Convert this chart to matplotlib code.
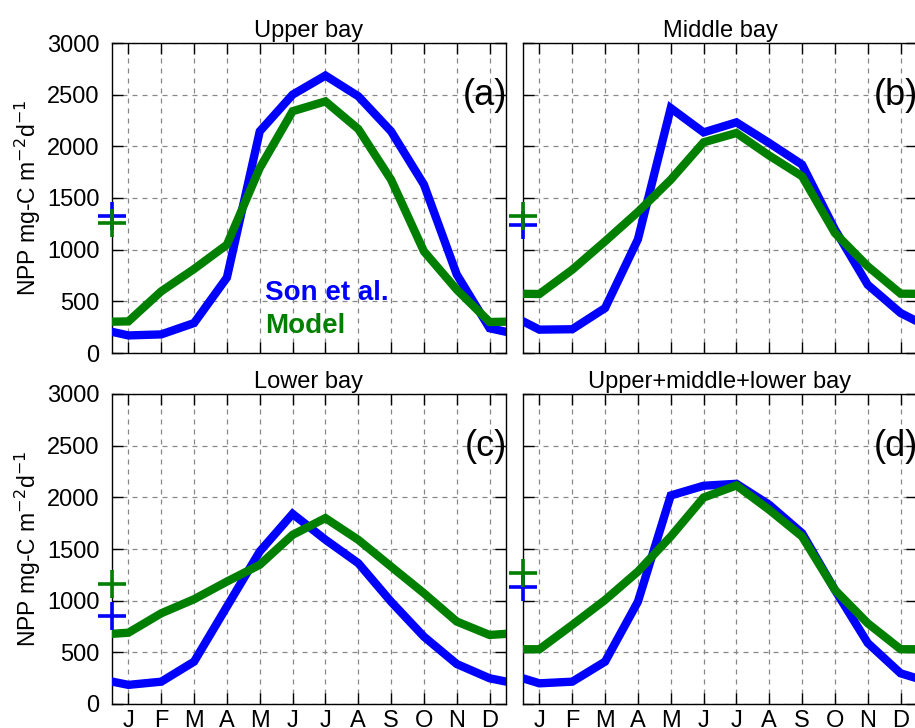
import matplotlib.pyplot as plt
import numpy as np

plt.rcParams['font.family'] = ['Liberation Sans', 'DejaVu Sans']

months = ['J', 'F', 'M', 'A', 'M', 'J', 'J', 'A', 'S', 'O', 'N', 'D']
titles = ['Upper bay', 'Middle bay', 'Lower bay', 'Upper+middle+lower bay']
tags = ['(a)', '(b)', '(c)', '(d)']

# Son et al. (satellite) monthly NPP
son_upper = [170, 180, 290, 730, 2145, 2500, 2685, 2485, 2145, 1630, 760, 240]
son_middle = [226, 230, 435, 1100, 2370, 2135, 2232, 2032, 1823, 1195, 660, 387]
son_lower = [185, 216, 410, 943, 1476, 1840, 1590, 1363, 990, 652, 387, 249]
son_total = [200, 216, 410, 990, 2018, 2112, 2131, 1928, 1653, 1104, 590, 297]

# Model monthly NPP
model_upper = [306, 597, 813, 1048, 1790, 2340, 2435, 2168, 1677, 984, 613, 300]
model_middle = [571, 806, 1081, 1365, 1677, 2039, 2129, 1910, 1710, 1161, 839, 574]
model_lower = [690, 878, 1014, 1185, 1347, 1637, 1799, 1589, 1330, 1072, 798, 668]
model_total = [530, 765, 1007, 1282, 1621, 1998, 2115, 1879, 1621, 1104, 781, 530]

# annual means shown as crosses on the left axis
son_mean = [1330, 1240, 850, 1130]
model_mean = [1260, 1330, 1160, 1270]

son_all = [son_upper, son_middle, son_lower, son_total]
model_all = [model_upper, model_middle, model_lower, model_total]

blue = '#0000ff'
green = '#007f00'

W, H = 915, 728
fig = plt.figure(figsize=(W / 100, H / 100), dpi=100)

# axes boxes in pixels: left, top, right, bottom
boxes = [(112, 43, 506, 353), (523, 43, 917, 353),
         (112, 394, 506, 704), (523, 394, 917, 704)]

x = np.arange(1, 13)
x_wrap = np.concatenate([[0], x, [13]])

for i in range(4):
    l, t, r, b = boxes[i]
    ax = fig.add_axes([l / W, (H - b) / H, (r - l) / W, (b - t) / H])

    son = son_all[i]
    mod = model_all[i]
    # wrap Dec/Jan so the curves run to the axis edges
    ax.plot(x_wrap, [son[-1]] + son + [son[0]], color=blue, lw=6, solid_joinstyle='miter', zorder=3)
    ax.plot(x_wrap, [mod[-1]] + mod + [mod[0]], color=green, lw=6, solid_joinstyle='miter', zorder=4)

    ax.plot(0.5, son_mean[i], marker='+', color=blue, ms=20, mew=2.6, clip_on=False, zorder=5)
    ax.plot(0.5, model_mean[i], marker='+', color=green, ms=20, mew=2.6, clip_on=False, zorder=6)

    ax.set_xlim(0.5, 12.5)
    ax.set_ylim(0, 3000)
    ax.set_xticks(x)
    ax.set_yticks(np.arange(0, 3001, 500))
    ax.grid(True, color='#888888', linestyle=(0, (4, 4)), linewidth=0.9)
    ax.tick_params(direction='in', length=8, width=1, top=True, right=True,
                   labelsize=17, pad=9)
    for s in ax.spines.values():
        s.set_linewidth(1)

    if i >= 2:
        ax.set_xticklabels(months, fontsize=17)
        ax.tick_params(axis='x', pad=4)
    else:
        ax.set_xticklabels([])
    if i % 2 == 0:
        ax.set_ylabel('NPP mg-C m$^{-2}$d$^{-1}$', fontsize=16.5, labelpad=3)
    else:
        ax.set_yticklabels([])

    ax.set_title(titles[i], fontsize=17, pad=4)
    ax.text(1.003, 0.83, tags[i], transform=ax.transAxes, ha='right', va='center',
            fontsize=26)

    if i == 0:
        ax.text(0.388, 0.194, 'Son et al.', transform=ax.transAxes, color=blue,
                fontsize=20, fontweight='bold', ha='left', va='center')
        ax.text(0.388, 0.087, 'Model', transform=ax.transAxes, color=green,
                fontsize=20, fontweight='bold', ha='left', va='center')

plt.savefig('out.png', dpi=100)
